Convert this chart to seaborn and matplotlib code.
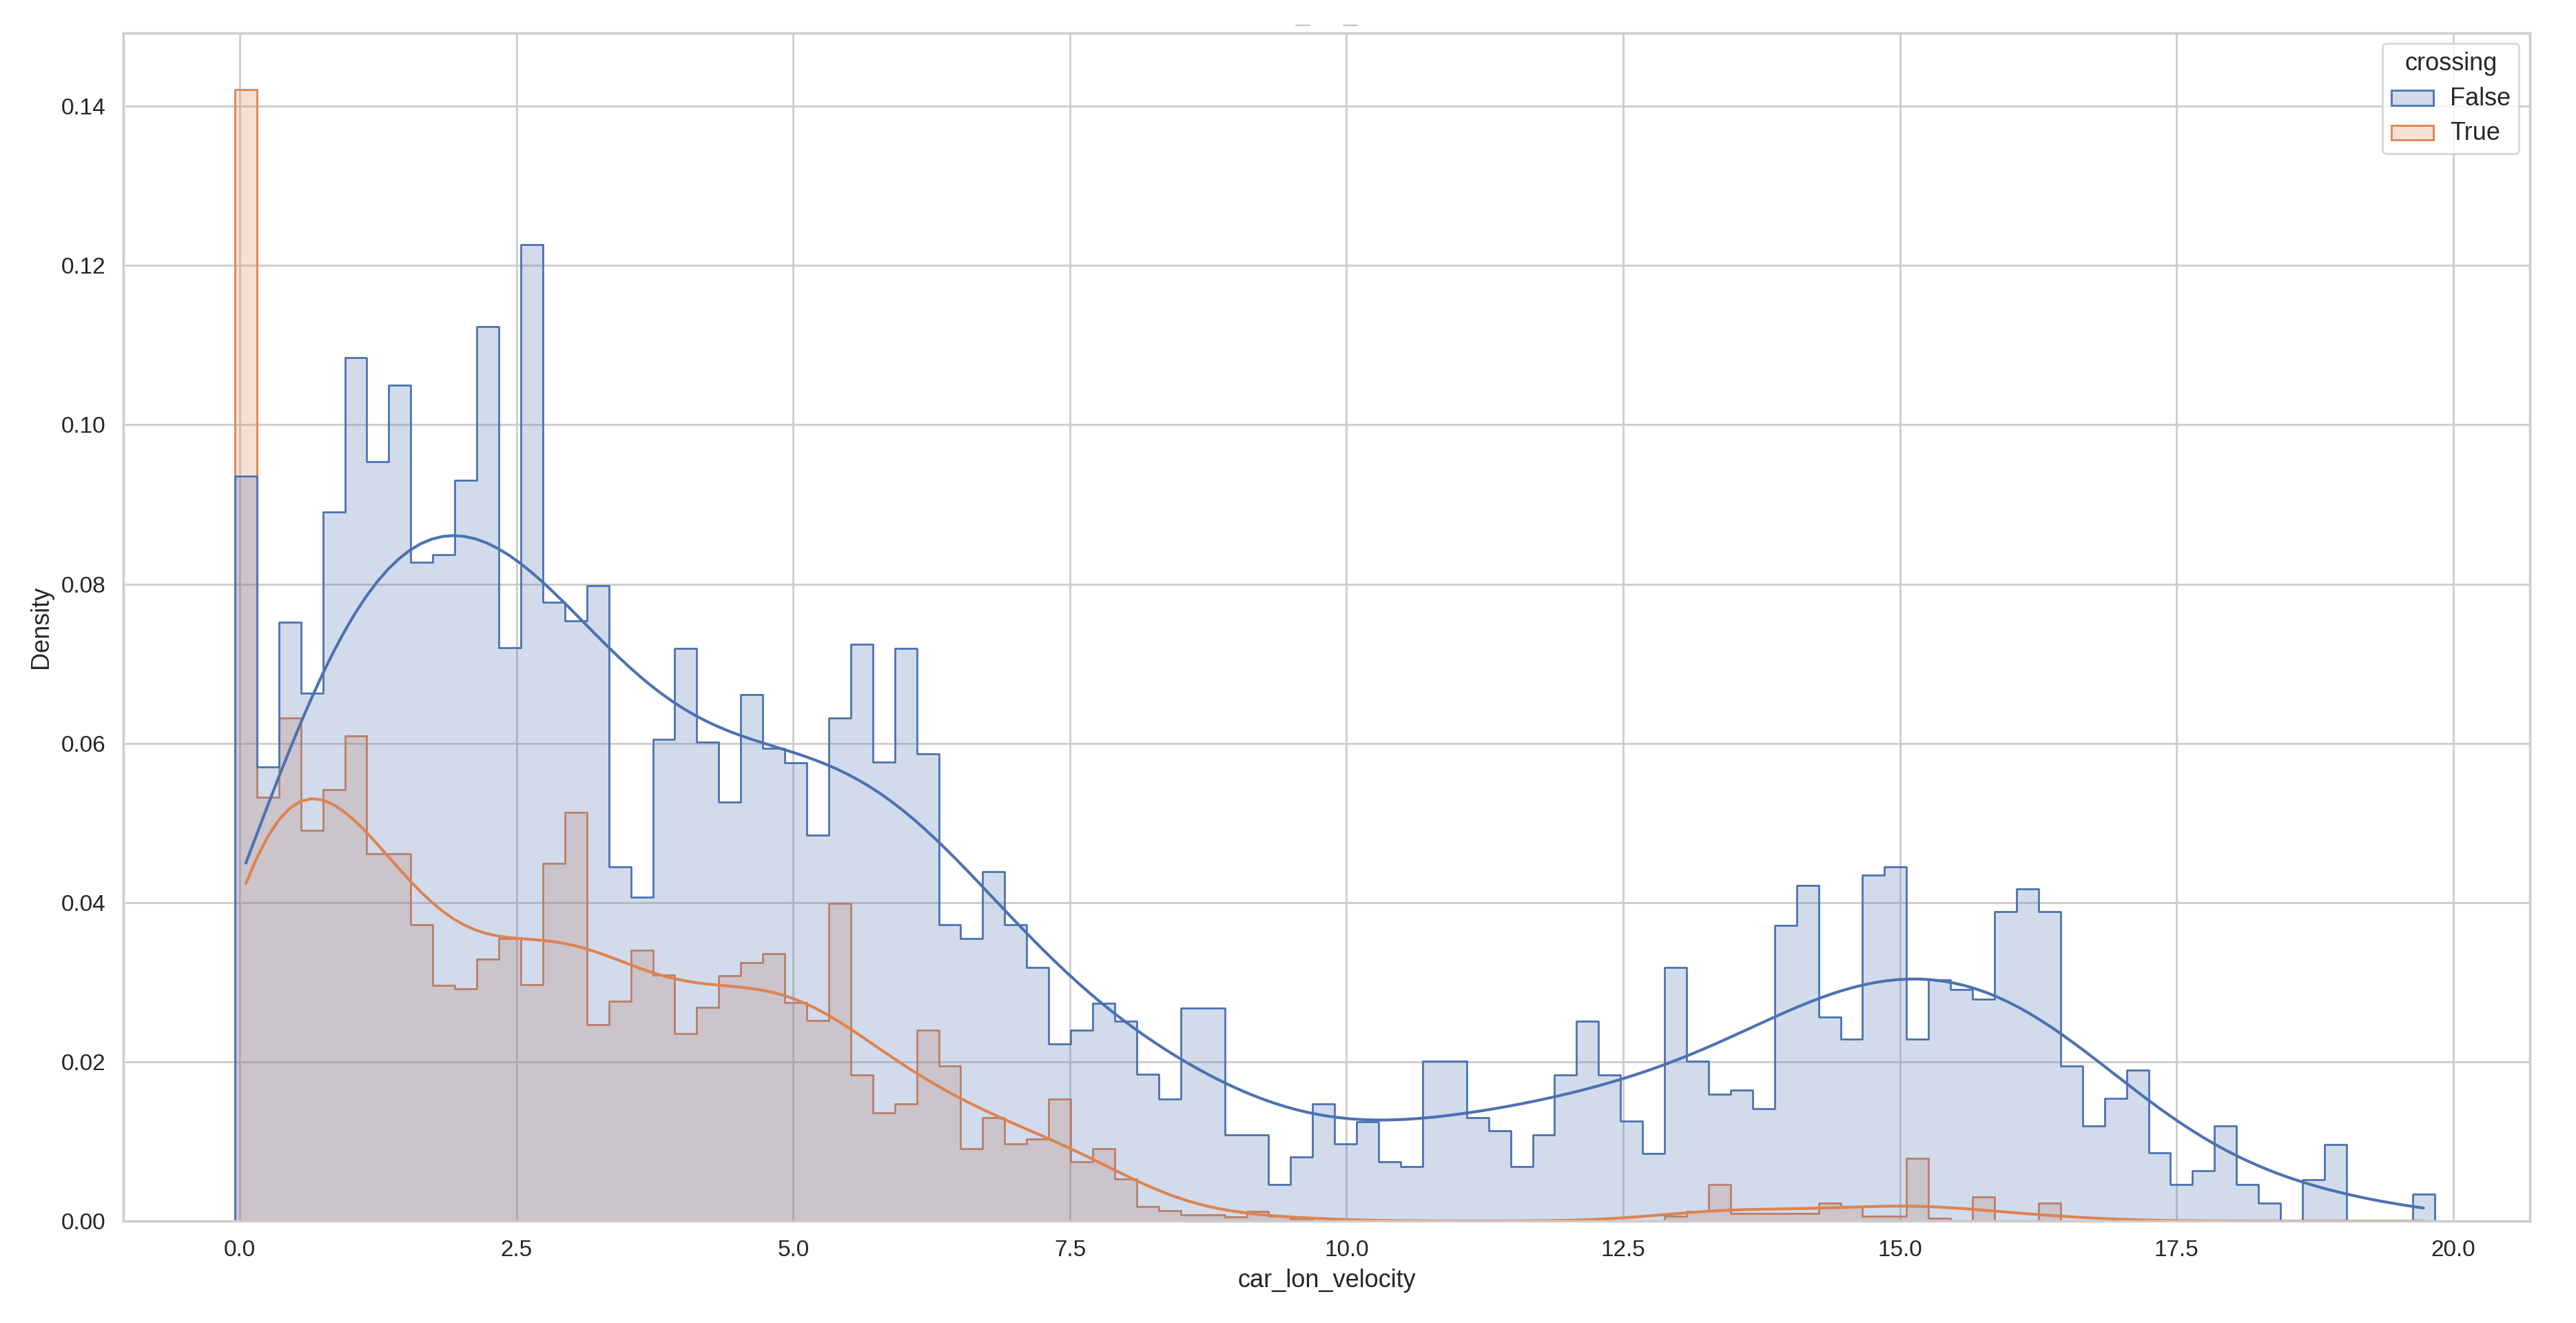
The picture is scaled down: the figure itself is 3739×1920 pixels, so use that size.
import numpy as np
import pandas as pd
import matplotlib
matplotlib.use("Agg")
import matplotlib.pyplot as plt
import seaborn as sns

# 100 bins from -0.045 to 19.83
bin_lo = -0.045
bin_hi = 19.83
n_bins = 100

false_density = [
    0.0933, 0.0569, 0.0750, 0.0661, 0.0888, 0.1081, 0.0951, 0.1047, 0.0825, 0.0835,
    0.0928, 0.1120, 0.0718, 0.1223, 0.0775, 0.0752, 0.0796, 0.0444, 0.0406, 0.0603,
    0.0717, 0.0600, 0.0525, 0.0659, 0.0592, 0.0574, 0.0483, 0.0630, 0.0722, 0.0575,
    0.0717, 0.0585, 0.0371, 0.0354, 0.0438, 0.0371, 0.0318, 0.0222, 0.0239, 0.0273,
    0.0250, 0.0184, 0.0153, 0.0267, 0.0267, 0.0108, 0.0108, 0.0046, 0.0080, 0.0147,
    0.0097, 0.0124, 0.0074, 0.0068, 0.0200, 0.0200, 0.0130, 0.0113, 0.0068, 0.0108,
    0.0183, 0.0250, 0.0183, 0.0125, 0.0085, 0.0318, 0.0200, 0.0159, 0.0164, 0.0141,
    0.0370, 0.0420, 0.0256, 0.0228, 0.0433, 0.0444, 0.0228, 0.0302, 0.0290, 0.0278,
    0.0388, 0.0416, 0.0388, 0.0194, 0.0119, 0.0154, 0.0189, 0.0086, 0.0046, 0.0063,
    0.0119, 0.0046, 0.0023, 0.0000, 0.0052, 0.0096, 0.0000, 0.0000, 0.0000, 0.0034,
]
true_density = [
    0.1417, 0.0531, 0.0630, 0.0489, 0.0540, 0.0608, 0.0460, 0.0460, 0.0371, 0.0295,
    0.0291, 0.0328, 0.0354, 0.0296, 0.0448, 0.0512, 0.0246, 0.0275, 0.0339, 0.0308,
    0.0235, 0.0268, 0.0307, 0.0324, 0.0335, 0.0274, 0.0251, 0.0398, 0.0183, 0.0136,
    0.0147, 0.0239, 0.0194, 0.0091, 0.0130, 0.0097, 0.0103, 0.0153, 0.0074, 0.0091,
    0.0053, 0.0018, 0.0013, 0.0008, 0.0008, 0.0005, 0.0012, 0.0006, 0.0003, 0.0000,
    0.0000, 0.0000, 0.0000, 0.0000, 0.0000, 0.0000, 0.0000, 0.0000, 0.0000, 0.0000,
    0.0000, 0.0000, 0.0000, 0.0000, 0.0000, 0.0006, 0.0012, 0.0046, 0.0010, 0.0010,
    0.0010, 0.0010, 0.0023, 0.0018, 0.0006, 0.0006, 0.0079, 0.0004, 0.0000, 0.0030,
    0.0000, 0.0000, 0.0023, 0.0000, 0.0000, 0.0000, 0.0000, 0.0000, 0.0000, 0.0000,
    0.0000, 0.0000, 0.0000, 0.0000, 0.0000, 0.0000, 0.0000, 0.0000, 0.0000, 0.0000,
]

edges = np.linspace(bin_lo, bin_hi, n_bins + 1)
centers = (edges[:-1] + edges[1:]) / 2
df = pd.DataFrame({
    "car_lon_velocity": np.concatenate([centers, centers]),
    "w": np.concatenate([false_density, true_density]),
    "crossing": [False] * n_bins + [True] * n_bins,
})

sns.set_theme(style="whitegrid")
plt.rcParams["font.family"] = ["Liberation Sans", "DejaVu Sans"]

fig, ax = plt.subplots(figsize=(18.695, 9.6), dpi=200)
sns.histplot(data=df, x="car_lon_velocity", weights="w", hue="crossing",
             bins=n_bins, binrange=(bin_lo, bin_hi), element="step",
             stat="density", common_norm=True,
             kde=True, kde_kws=dict(bw_adjust=0.42), ax=ax)
ax.set_xlim(-1.05, 20.69)
ax.set_title("_     _", color="#c8c8c8", fontsize=13)
ax.tick_params(labelsize=12)
ax.set_xlabel("car_lon_velocity", fontsize=13)
ax.set_ylabel("Density", fontsize=13)
leg = ax.get_legend()
plt.setp(leg.get_texts(), fontsize=13)
leg.get_title().set_fontsize(13)
fig.subplots_adjust(left=0.048, right=0.982, top=0.975, bottom=0.077)
fig.savefig("out.png", dpi=200)
